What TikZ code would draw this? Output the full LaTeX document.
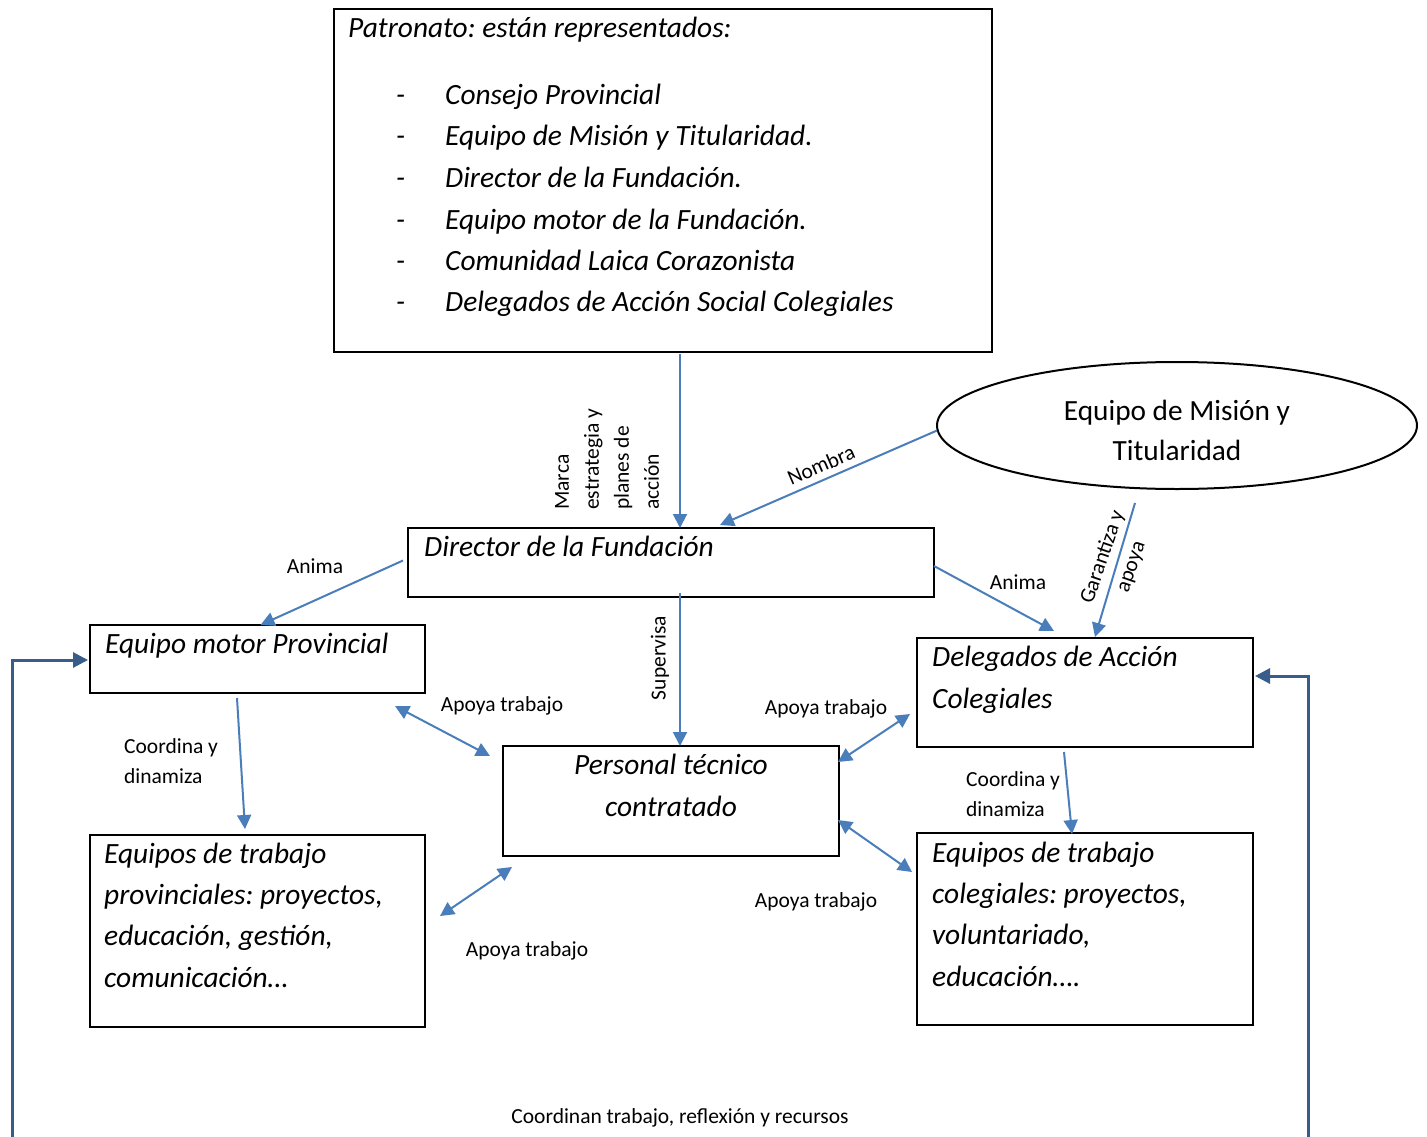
\documentclass[tikz,border=0pt]{standalone}
\usepackage{fontspec}
\setmainfont{Carlito}
\usetikzlibrary{arrows.meta,shapes.geometric,calc}
\definecolor{connc}{HTML}{4A7EBB}
\definecolor{loopc}{HTML}{385D8A}
\frenchspacing
\tikzset{
  box/.style={draw=black,line width=2pt,inner sep=0pt,outer sep=0pt},
  oval/.style={draw=black,line width=2pt,ellipse,inner sep=0pt,outer sep=0pt},
  big/.style={font=\fontsize{29.4}{41}\selectfont\itshape,inner sep=0pt,anchor=base west},
  bigc/.style={font=\fontsize{29.4}{41}\selectfont\itshape,inner sep=0pt,anchor=base},
  up/.style={font=\fontsize{29.3}{41}\selectfont,inner sep=0pt,anchor=base},
  lab/.style={font=\fontsize{21.5}{30}\selectfont,inner sep=0pt},
  conn/.style={draw=connc,line width=2pt,-{Triangle[length=14pt,width=14pt]}},
  both/.style={draw=connc,line width=2pt,{Triangle[length=14pt,width=14pt]}-{Triangle[length=14pt,width=14pt]}},
  fback/.style={draw=loopc,line width=3pt,-{Triangle[length=15pt,width=15pt]}}
}
\begin{document}
\begin{tikzpicture}[x=1pt,y=-1pt]
\useasboundingbox (0,0) rectangle (1427,1137);
\fill[white] (0,0) rectangle (1427,1137);

% boxes
\node[box,minimum width=658pt,minimum height=343pt] (patr) at (663,180.5) {};
\node[oval,minimum width=480pt,minimum height=127pt] (ell) at (1177,425.5) {};
\node[box,minimum width=526pt,minimum height=69pt] (dir) at (671,562.5) {};
\node[box,minimum width=335pt,minimum height=68pt] (motor) at (257.5,659) {};
\node[box,minimum width=336pt,minimum height=109pt] (deleg) at (1085,692.5) {};
\node[box,minimum width=336pt,minimum height=110pt] (pers) at (671,801) {};
\node[box,minimum width=335pt,minimum height=192pt] (eqprov) at (257.5,931) {};
\node[box,minimum width=336pt,minimum height=192pt] (eqcol) at (1085,929) {};

% Patronato text
\node[big] (pt0) at (348,38) {Patronato: están representados:};
\node[big] (pt1) at (396,105) {\makebox[49pt][l]{-}Consejo Provincial};
\node[big] (pt2) at (396,146) {\makebox[49pt][l]{-}Equipo de Misión y Titularidad.};
\node[big] (pt3) at (396,187) {\makebox[49pt][l]{-}Director de la Fundación.};
\node[big] (pt4) at (396,229) {\makebox[49pt][l]{-}Equipo motor de la Fundación.};
\node[big] (pt5) at (396,270) {\makebox[49pt][l]{-}Comunidad Laica Corazonista};
\node[big] (pt6) at (396,311) {\makebox[49pt][l]{-}Delegados de Acción Social Colegiales};

% ellipse text
\node[up] (et1) at (1177,420) {Equipo de Misión y};
\node[up] (et2) at (1177,460) {Titularidad};

% box texts
\node[big] (dt) at (424,556) {Director de la Fundación};
\node[big] (mt) at (105,653) {Equipo motor Provincial};
\node[big] (dl1) at (932,666) {Delegados de Acción};
\node[big] (dl2) at (932,708) {Colegiales};
\node[bigc] (ps1) at (671,774) {Personal técnico};
\node[bigc] (ps2) at (671,816) {contratado};
\node[big] (ep1) at (104,863) {Equipos de trabajo};
\node[big] (ep2) at (104,904) {provinciales: proyectos,};
\node[big] (ep3) at (104,945) {educación, gestión,};
\node[big] (ep4) at (104,987) {comunicación…};
\node[big] (ec1) at (932,862) {Equipos de trabajo};
\node[big] (ec2) at (932,903) {colegiales: proyectos,};
\node[big] (ec3) at (932,944) {voluntariado,};
\node[big] (ec4) at (932,986) {educación….};

% connectors
\draw[conn] ($(patr.south)+(17,2)$) -- ($(dir.north)+(9,0)$);
\draw[conn] ($(ell.west)+(0,5)$) -- ($(dir.north)+(49,-3)$);
\draw[conn] ($(dir.west)+(-5,-2)$) -- ($(motor.north)+(3,0)$);
\draw[conn] ($(dir.east)+(0,3.5)$) -- ($(deleg.north)+(-31,-7)$);
\draw[conn] ($(ell.south)+(-42,14)$) -- ($(deleg.north)+(10,-1)$);
\draw[conn] ($(dir.south)+(9,-4)$) -- ($(pers.north)+(9,0)$);
\draw[conn] ($(motor.south)+(-20.5,5)$) -- ($(eqprov.north)+(-12.5,-6)$);
\draw[conn] ($(deleg.south)+(-21,5)$) -- ($(eqcol.north)+(-13,1)$);
\draw[both] ($(motor.south east)+(-30,13)$) -- ($(pers.north west)+(-13,10)$);
\draw[both] ($(deleg.west)+(-7,21.5)$) -- ($(pers.north east)+(-1,16)$);
\draw[both] ($(pers.east)+(-1,19)$) -- ($(eqcol.north west)+(-5,39)$);
\draw[both] ($(pers.south west)+(9,11)$) -- ($(eqprov.north east)+(15,81)$);

\coordinate (fbl) at (12,1140);
\coordinate (fbr) at (1308,1140);
\draw[fback] (fbl) |- ($(motor.west)+(-2,1)$);
\draw[fback] (fbr) |- ($(deleg.east)+(2,-16.5)$);

% labels
\node[lab,rotate=90,anchor=west,align=left] (lmarca) at (607,510) {Marca\\estrategia y\\planes de\\acción};
\node[lab,rotate=23.4] (lnombra) at (821,465) {Nombra};
\node[lab] (lanima1) at (315,566) {Anima};
\node[lab] (lanima2) at (1018,582) {Anima};
\node[lab,rotate=71,align=center] (lgar) at (1117,562) {Garantiza y\\apoya};
\node[lab,rotate=90] (lsup) at (660,658) {Supervisa};
\node[lab,anchor=west,align=left] (lcd1) at (124,761) {Coordina y\\dinamiza};
\node[lab,anchor=west,align=left] (lcd2) at (966,794) {Coordina y\\dinamiza};
\node[lab] (lap1) at (502,706) {Apoya trabajo};
\node[lab] (lap2) at (826,709) {Apoya trabajo};
\node[lab] (lap3) at (816,902) {Apoya trabajo};
\node[lab] (lap4) at (527,951) {Apoya trabajo};
\node[lab] (lcoord) at (680,1118) {Coordinan trabajo, reflexión y recursos};
\end{tikzpicture}
\end{document}
